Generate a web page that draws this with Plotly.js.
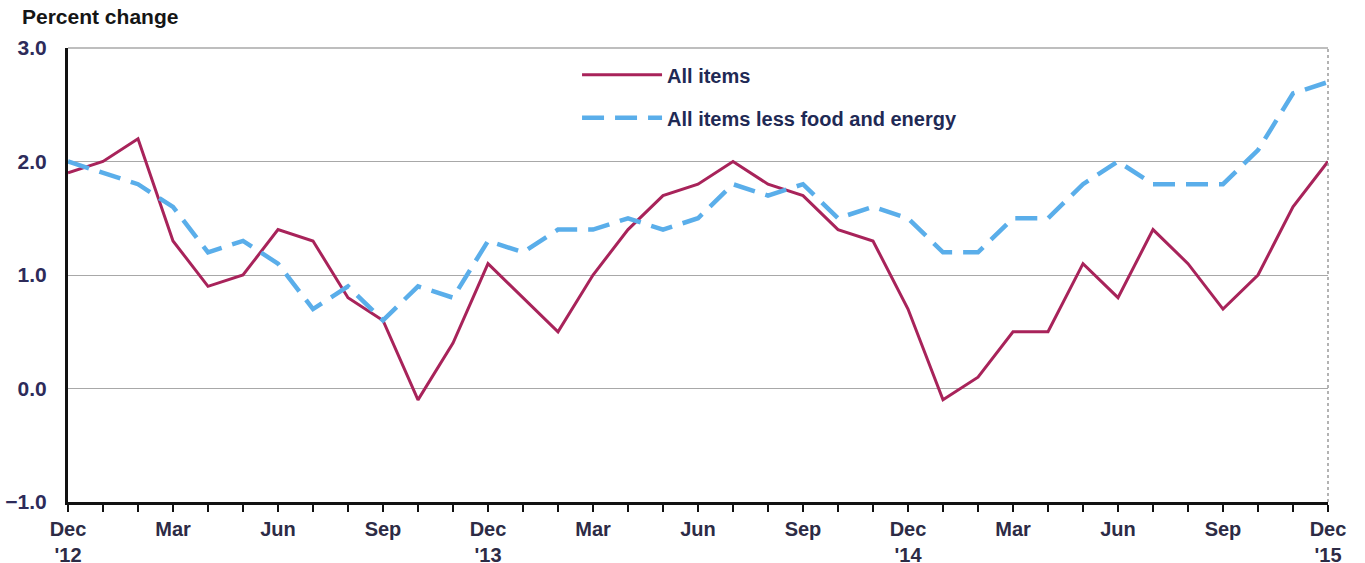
<!DOCTYPE html>
<html>
<head>
<meta charset="utf-8">
<script src="https://cdn.plot.ly/plotly-3.0.1.min.js"></script>
<style>
  html, body { margin: 0; padding: 0; background: #ffffff; }
  #chart { width: 1365px; height: 563px; }
</style>
</head>
<body>
<div id="chart"></div>
<script>
const months = [
  "Dec 2012",
  "Jan 2013","Feb 2013","Mar 2013","Apr 2013","May 2013","Jun 2013",
  "Jul 2013","Aug 2013","Sep 2013","Oct 2013","Nov 2013","Dec 2013",
  "Jan 2014","Feb 2014","Mar 2014","Apr 2014","May 2014","Jun 2014",
  "Jul 2014","Aug 2014","Sep 2014","Oct 2014","Nov 2014","Dec 2014",
  "Jan 2015","Feb 2015","Mar 2015","Apr 2015","May 2015","Jun 2015",
  "Jul 2015","Aug 2015","Sep 2015","Oct 2015","Nov 2015","Dec 2015"
];

const tickLabels = [
  "Dec<br>'12",
  "", "", "Mar", "", "", "Jun", "", "", "Sep", "", "", "Dec<br>'13",
  "", "", "Mar", "", "", "Jun", "", "", "Sep", "", "", "Dec<br>'14",
  "", "", "Mar", "", "", "Jun", "", "", "Sep", "", "", "Dec<br>'15"
];

const allItems = [
  1.9,
  2.0, 2.2, 1.3, 0.9, 1.0, 1.4, 1.3, 0.8, 0.6, -0.1, 0.4, 1.1,
  0.8, 0.5, 1.0, 1.4, 1.7, 1.8, 2.0, 1.8, 1.7, 1.4, 1.3, 0.7,
  -0.1, 0.1, 0.5, 0.5, 1.1, 0.8, 1.4, 1.1, 0.7, 1.0, 1.6, 2.0
];

const coreItems = [
  2.0,
  1.9, 1.8, 1.6, 1.2, 1.3, 1.1, 0.7, 0.9, 0.6, 0.9, 0.8, 1.3,
  1.2, 1.4, 1.4, 1.5, 1.4, 1.5, 1.8, 1.7, 1.8, 1.5, 1.6, 1.5,
  1.2, 1.2, 1.5, 1.5, 1.8, 2.0, 1.8, 1.8, 1.8, 2.1, 2.6, 2.7
];

const seriesNames = ["All items", "All items less food and energy"];
const yTicks = [-1, 0, 1, 2, 3];

const traces = [
  {
    x: months, y: allItems, type: "scatter", mode: "lines",
    name: seriesNames[0], legendgroup: "a",
    line: { color: "#a8235a", width: 3 },
    hoverinfo: "x+y"
  },
  {
    x: months, y: coreItems, type: "scatter", mode: "lines",
    name: seriesNames[1], legendgroup: "b",
    line: { color: "#5aaeea", width: 4.5, dash: "22px,11px" },
    hoverinfo: "x+y"
  }
];

const layout = {
  width: 1365, height: 563,
  margin: { l: 68, r: 37, t: 48, b: 61 },
  paper_bgcolor: "#ffffff",
  plot_bgcolor: "#ffffff",
  font: { family: "Liberation Sans, Arial, sans-serif", color: "#2d2b55" },
  title: {
    text: "Percent change",
    font: { family: "Liberation Sans, Arial, sans-serif", size: 21, color: "#151515", weight: "bold" },
    x: 22 / 1365, xref: "container", xanchor: "left",
    y: 1 - 17 / 563, yref: "container", yanchor: "middle"
  },
  xaxis: {
    type: "category",
    range: [0, months.length - 1],
    tickmode: "array",
    tickvals: months,
    ticktext: tickLabels,
    ticks: "outside",
    ticklen: 7,
    tickwidth: 2,
    tickcolor: "#111111",
    showline: true,
    linecolor: "#111111",
    linewidth: 3,
    showgrid: false,
    zeroline: false,
    tickangle: 0,
    tickfont: { size: 20, color: "#2d2b45", weight: "bold" },
    fixedrange: true
  },
  yaxis: {
    range: [-1, 3],
    tickmode: "array",
    tickvals: yTicks,
    tickformat: ".1f",
    ticks: "",
    ticklabelstandoff: 14,
    showline: true,
    linecolor: "#111111",
    linewidth: 3,
    showgrid: true,
    gridcolor: "#a8a8a8",
    gridwidth: 1,
    zeroline: false,
    tickfont: { size: 21, color: "#2d2b5a", weight: "bold" },
    fixedrange: true
  },
  showlegend: true,
  legend: {
    x: 0.404, xanchor: "left",
    y: 0.984, yanchor: "top",
    bgcolor: "rgba(0,0,0,0)",
    borderwidth: 0,
    itemwidth: 80,
    traceorder: "grouped",
    tracegroupgap: 14,
    font: { size: 20, color: "#1f2a55", weight: "bold" }
  },
  shapes: [
    {
      type: "line", xref: "paper", yref: "paper",
      x0: 1, x1: 1, y0: 0, y1: 1,
      line: { color: "#9a9a9a", width: 1.5, dash: "dot" }
    },
    {
      type: "line", xref: "paper", yref: "paper",
      x0: 0, x1: 1, y0: 1, y1: 1,
      line: { color: "#a8a8a8", width: 1.5 }
    }
  ],
  hovermode: false
};

Plotly.newPlot("chart", traces, layout, { displayModeBar: false, staticPlot: true });
</script>
</body>
</html>
